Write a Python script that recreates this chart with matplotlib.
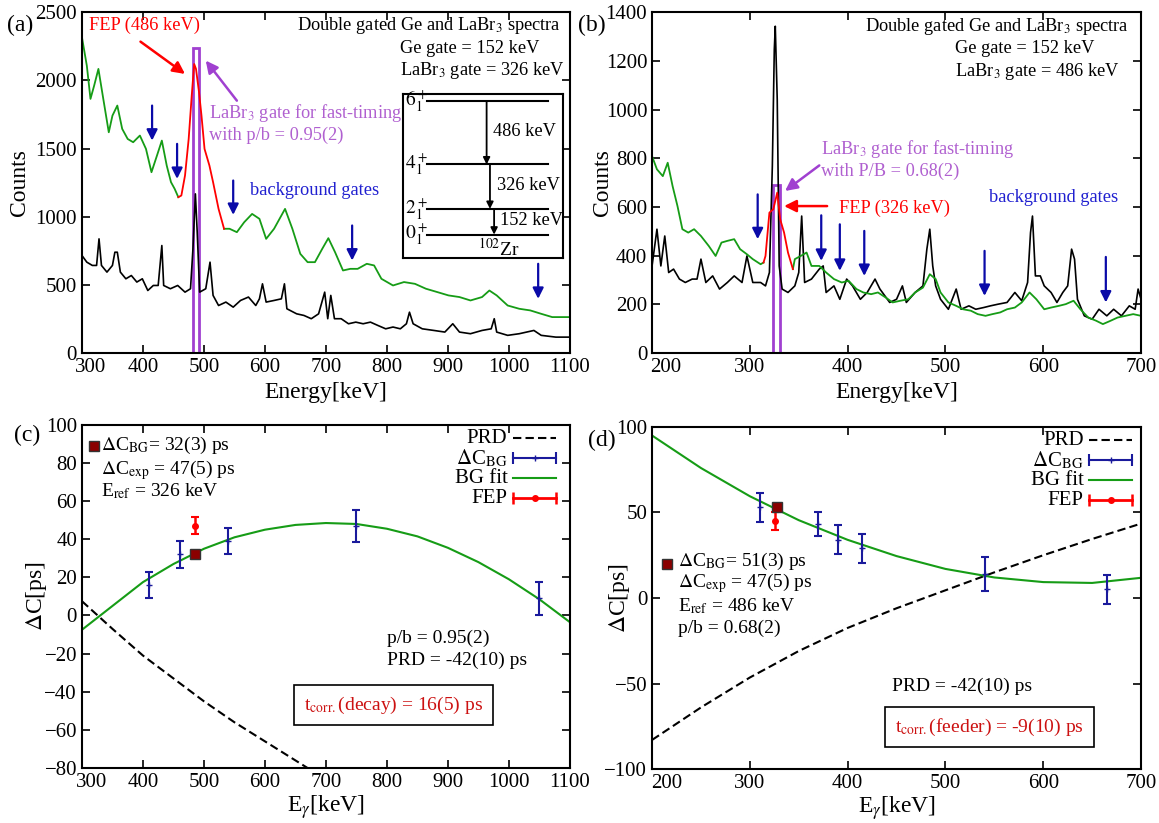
import numpy as np
import matplotlib
matplotlib.use('Agg')
import matplotlib.pyplot as plt
import matplotlib.transforms as mtrans
from matplotlib.patches import Rectangle

plt.rcParams['font.family'] = ['Liberation Serif', 'DejaVu Serif']
plt.rcParams['mathtext.fontset'] = 'stix'

GREEN = '#169c16'
RED = '#ff0000'
PURPLE = '#a040d0'
PURPLE_T = '#b060d0'
BLUE = '#0a0aa8'
BLUE_T = '#2020d0'
EBLUE = '#1a1a9c'
BOXRED = '#cc1111'
SQRED = '#8b0000'
FS = 13.2

# ---- panel (a): spectra gated 152/326 keV
a_green1_e = [300, 308, 314, 320, 327, 335, 344, 350, 358, 366, 375, 384, 395, 405, 414, 423, 431, 439, 446, 452, 458]
a_green1_c = [2317, 2109, 1865, 1962, 2085, 1865, 1620, 1742, 1816, 1645, 1571, 1547, 1596, 1498, 1327, 1449, 1559, 1376, 1254, 1205, 1144]
a_red_e = [458, 463, 469, 475, 480, 484, 487, 492, 496, 501, 509, 515, 524, 533]
a_red_c = [1144, 1156, 1303, 1571, 1889, 2121, 2085, 1913, 1742, 1498, 1376, 1254, 1058, 912]
a_green2_e = [533, 542, 554, 566, 579, 591, 602, 615, 633, 645, 658, 670, 682, 694, 704, 715, 728, 740, 752, 767,
              779, 791, 810, 828, 846, 864, 883, 901, 919, 937, 956, 968, 980, 998, 1017, 1035, 1053, 1071, 1100]
a_green2_c = [912, 912, 887, 960, 1021, 985, 838, 912, 1058, 912, 728, 667, 667, 765, 843, 740, 606, 618, 618, 655,
              643, 545, 496, 521, 508, 472, 447, 423, 411, 386, 411, 459, 423, 349, 325, 313, 288, 264, 264]
a_black_e = [300, 308, 317, 324, 328, 332, 341, 350, 354, 358, 363, 372, 381, 390, 399, 408, 417, 425, 431, 434,
             445, 457, 469, 478, 482, 486, 489, 493, 503, 510, 515, 524, 536, 548, 560, 573, 585, 591, 596, 602,
             615, 627, 632, 636, 652, 664, 676, 688, 698, 703, 708, 714, 725, 737, 749, 761, 773, 785, 798, 810,
             822, 832, 837, 843, 858, 877, 895, 908, 919, 937, 956, 971, 976, 980, 998, 1017, 1041, 1053, 1077, 1100]
a_black_c = [716, 667, 643, 643, 838, 643, 594, 643, 740, 740, 594, 545, 569, 521, 545, 459, 496, 496, 789, 496,
             472, 496, 447, 472, 765, 1168, 887, 447, 472, 667, 423, 349, 374, 337, 386, 411, 349, 398, 508, 374,
             386, 398, 508, 325, 288, 276, 252, 288, 447, 252, 423, 252, 252, 215, 227, 215, 227, 203, 178, 191,
             178, 215, 300, 215, 178, 166, 154, 215, 154, 142, 166, 178, 252, 154, 130, 142, 166, 130, 117, 117]
a_gate = [482, 492]
a_gate_top = 2236
a_arrow_e = [415, 456, 548, 743, 1048]
a_arrow_top = [1816, 1535, 1266, 936, 655]
a_arrow_bot = [1559, 1278, 1014, 679, 398]

# ---- panel (b): spectra gated 152/486 keV
b_green1_e = [200, 205, 211, 216, 221, 226, 231, 237, 243, 250, 258, 265, 271, 277, 284, 290, 297, 303, 311, 314]
b_green1_c = [809, 755, 727, 782, 686, 604, 509, 495, 509, 481, 440, 399, 454, 461, 468, 427, 406, 386, 365, 372]
b_red_e = [314, 316, 320, 324, 328, 331, 335, 339, 344]
b_red_c = [372, 399, 577, 591, 659, 550, 495, 413, 345]
b_green2_e = [344, 346, 352, 358, 363, 371, 378, 386, 394, 401, 409, 416, 424, 431, 439, 446, 454, 462, 469, 477,
              484, 490, 495, 503, 511, 518, 526, 533, 541, 548, 556, 563, 571, 578, 586, 593, 601, 608, 616, 623,
              631, 638, 646, 654, 661, 669, 676, 684, 692, 700]
b_green2_c = [345, 386, 399, 413, 358, 358, 331, 304, 290, 297, 263, 249, 242, 249, 228, 208, 215, 221, 249, 269,
              324, 304, 249, 208, 194, 180, 174, 160, 153, 160, 167, 180, 187, 208, 249, 221, 180, 187, 194, 201,
              215, 180, 146, 133, 119, 133, 146, 153, 160, 153]
b_black_e = [200, 205, 209, 213, 217, 222, 228, 234, 241, 246, 250, 255, 262, 269, 277, 284, 292, 297, 303, 311,
             316, 320, 323, 325, 326, 328, 330, 333, 339, 346, 350, 353, 356, 363, 371, 375, 378, 386, 392, 399,
             405, 413, 420, 428, 433, 443, 450, 456, 460, 469, 477, 481, 484, 487, 490, 495, 503, 511, 516, 524,
             531, 539, 546, 554, 563, 571, 578, 584, 587, 589, 592, 597, 601, 608, 614, 620, 625, 629, 632, 635,
             642, 650, 657, 665, 672, 680, 688, 694, 697, 700]
b_black_c = [358, 509, 358, 481, 331, 345, 304, 290, 304, 304, 386, 290, 317, 263, 290, 317, 290, 399, 290, 290,
             276, 331, 768, 1247, 1343, 1042, 358, 263, 249, 276, 331, 563, 290, 304, 345, 358, 249, 276, 221, 304,
             276, 221, 249, 304, 263, 208, 221, 276, 208, 249, 276, 427, 509, 358, 276, 221, 180, 263, 180, 194,
             180, 187, 194, 201, 208, 249, 215, 290, 495, 563, 317, 317, 276, 249, 208, 249, 276, 427, 386, 221,
             153, 139, 180, 153, 180, 153, 194, 180, 263, 221]
b_gate = [324, 331]
b_gate_top = 689
b_arrow_e = [308, 373, 392, 417, 540, 664]
b_arrow_top = [652, 566, 529, 502, 420, 395]
b_arrow_bot = [468, 379, 338, 317, 235, 208]

# ---- panel (c): time-walk, decay
c_bg_e = [410, 460, 540, 750, 1050]
c_bg_dc = [16, 32, 39, 47, 9]
c_bg_err = [7, 7, 7, 8.5, 8.5]
c_fep_e = [486]
c_fep_dc = [47]
c_fep_err = [4.5]
c_ref_e = [486]
c_ref_dc = [32]
c_fit_e = [300, 350, 400, 450, 500, 550, 600, 650, 700, 750, 800, 850, 900, 950, 1000, 1050, 1100]
c_fit_dc = [-7.5, 5, 17.5, 27, 35, 41, 45, 47.5, 48.5, 48, 45.5, 41.5, 35.5, 28, 19, 8.5, -3.5]
c_prd_e = [300, 350, 400, 450, 500, 550, 600, 650, 700]
c_prd_dc = [7.5, -7, -21, -33, -45, -56, -66, -76, -86]

# ---- panel (d): time-walk, feeder
d_bg_e = [310, 370, 390, 415, 540, 665]
d_bg_dc = [53, 43, 34, 29, 14, 5]
d_bg_err = [8.5, 7, 8.5, 8.5, 10, 8.5]
d_fep_e = [326]
d_fep_dc = [45]
d_fep_err = [5.5]
d_ref_e = [328]
d_ref_dc = [53]
d_fit_e = [200, 250, 300, 350, 400, 450, 500, 550, 600, 650, 700]
d_fit_dc = [95, 76, 59.5, 45.5, 34, 24.5, 17, 12, 9.3, 8.8, 11.8]
d_prd_e = [200, 250, 300, 350, 400, 450, 500, 550, 600, 650, 700]
d_prd_dc = [-83, -64, -46.5, -31, -17.5, -6, 4.5, 15, 25, 34.5, 43.5]

levels = [r'$6^+_1$', r'$4^+_1$', r'$2^+_1$', r'$0^+_1$']
transitions = ['486 keV', '326 keV', '152 keV']

fig = plt.figure(figsize=(11.59, 8.23), dpi=100)


def style(ax, first_dx):
    for s in ax.spines.values():
        s.set_linewidth(1.5)
    ax.tick_params(direction='in', length=6, width=1.2, top=True, right=True, labelsize=15)
    # first x label sits a little to the right, as in the original
    lab = ax.get_xticklabels()[0]
    lab.set_transform(lab.get_transform() + mtrans.ScaledTranslation(first_dx / 100, 0, fig.dpi_scale_trans))


def arrows(ax, xs, tops, bots):
    for x, t, b in zip(xs, tops, bots):
        ax.annotate('', xy=(x, b), xytext=(x, t),
                    arrowprops=dict(arrowstyle='-|>', color=BLUE, lw=1.6, mutation_scale=16,
                                    shrinkA=0, shrinkB=0))


def legend(ax, xt, x0, x1, ys):
    tr = ax.transAxes
    xm = (x0 + x1) / 2
    ax.text(xt, ys[0], 'PRD', transform=tr, ha='right', va='center', fontsize=15)
    ax.plot([x0, x1], [ys[0]] * 2, transform=tr, color='k', ls='--', lw=1.5, dashes=(4, 2))
    ax.text(xt, ys[1], r'$\Delta$C$_{\rm BG}$', transform=tr, ha='right', va='center', fontsize=15)
    ax.plot([x0, x1], [ys[1]] * 2, transform=tr, color=EBLUE, lw=1.5)
    ax.plot([x0, x1], [ys[1]] * 2, transform=tr, color=EBLUE, ls='none', marker='|', ms=8, mew=1.5)
    ax.plot([xm], [ys[1]], transform=tr, color=EBLUE, marker='+', ms=4)
    ax.text(xt, ys[2], 'BG fit', transform=tr, ha='right', va='center', fontsize=15)
    ax.plot([x0, x1], [ys[2]] * 2, transform=tr, color=GREEN, lw=1.5)
    ax.text(xt, ys[3], 'FEP', transform=tr, ha='right', va='center', fontsize=15)
    ax.plot([x0, x1], [ys[3]] * 2, transform=tr, color=RED, lw=2)
    ax.plot([x0, x1], [ys[3]] * 2, transform=tr, color=RED, ls='none', marker='|', ms=8, mew=1.8)
    ax.plot([xm], [ys[3]], transform=tr, color=RED, marker='o', ms=4)


ax_a = fig.add_axes([0.0707, 0.571, 0.421, 0.414])
ax_b = fig.add_axes([0.5626, 0.571, 0.4219, 0.414])
ax_c = fig.add_axes([0.0707, 0.0668, 0.421, 0.417])
ax_d = fig.add_axes([0.5626, 0.0656, 0.4219, 0.4156])

# ---------- (a)
ax = ax_a
ax.plot(a_black_e, a_black_c, color='k', lw=1.2)
ax.plot(a_green1_e, a_green1_c, color=GREEN, lw=1.3)
ax.plot(a_green2_e, a_green2_c, color=GREEN, lw=1.3)
ax.plot(a_red_e, a_red_c, color=RED, lw=1.3)
ax.add_patch(Rectangle((a_gate[0], 0), a_gate[1] - a_gate[0], a_gate_top, fill=False, ec=PURPLE, lw=2))
arrows(ax, a_arrow_e, a_arrow_top, a_arrow_bot)
ax.set_xlim(300, 1100)
ax.set_ylim(0, 2500)
ax.set_xticks(range(300, 1101, 100))
ax.set_yticks(range(0, 2501, 500))
ax.set_xlabel('Energy[keV]', fontsize=17)
ax.set_ylabel('Counts', fontsize=17)
style(ax, 9)
ax.text(311, 2402, 'FEP (486 keV)', color=RED, fontsize=FS, va='center')
ax.annotate('', xy=(469, 2048), xytext=(396, 2285),
            arrowprops=dict(arrowstyle='-|>', color=RED, lw=1.8, mutation_scale=18, shrinkA=0, shrinkB=0))
ax.annotate('', xy=(503, 2146), xytext=(554, 1852),
            arrowprops=dict(arrowstyle='-|>', color=PURPLE, lw=1.8, mutation_scale=18, shrinkA=0, shrinkB=0))
ax.text(509, 1762, r'LaBr$_3$ gate for fast-timing', color=PURPLE_T, fontsize=FS, va='center')
ax.text(509, 1596, 'with p/b = 0.95(2)', color=PURPLE_T, fontsize=FS, va='center')
ax.text(576, 1193, 'background gates', color=BLUE_T, fontsize=FS, va='center')
ax.text(0.981, 0.961, r'Double gated Ge and LaBr$_3$ spectra', transform=ax.transAxes,
        ha='right', va='center', fontsize=FS)
ax.text(0.652, 0.894, 'Ge gate = 152 keV', transform=ax.transAxes, ha='left', va='center', fontsize=FS)
ax.text(0.652, 0.829, r'LaBr$_3$ gate = 326 keV', transform=ax.transAxes, ha='left', va='center', fontsize=FS)

ins = ax.inset_axes([0.658, 0.279, 0.327, 0.48])
ins.set_xlim(0, 1)
ins.set_ylim(0, 1)
ins.set_xticks([])
ins.set_yticks([])
for s in ins.spines.values():
    s.set_linewidth(1.5)
lev_y = [0.957, 0.572, 0.30, 0.143]
arr_x = [0.524, 0.545, 0.571]
lab_x = [0.565, 0.587, 0.61]
for lab, y in zip(levels, lev_y):
    ins.plot([0.15, 0.91], [y, y], color='k', lw=1.5)
    ins.text(0.015, y, lab, fontsize=14, va='center', ha='left')
for i, tr in enumerate(transitions):
    ins.annotate('', xy=(arr_x[i], lev_y[i + 1]), xytext=(arr_x[i], lev_y[i]),
                 arrowprops=dict(arrowstyle='-|>', color='k', lw=1.3, mutation_scale=10, shrinkA=0, shrinkB=0))
    ins.text(lab_x[i], (lev_y[i] + lev_y[i + 1]) / 2 + 0.01, tr, fontsize=FS, va='center', ha='left')
ins.text(0.6, 0.06, r'$^{102}$Zr', fontsize=14, ha='center', va='center')

# ---------- (b)
ax = ax_b
ax.plot(b_black_e, b_black_c, color='k', lw=1.2)
ax.plot(b_green1_e, b_green1_c, color=GREEN, lw=1.3)
ax.plot(b_green2_e, b_green2_c, color=GREEN, lw=1.3)
ax.plot(b_red_e, b_red_c, color=RED, lw=1.3)
ax.add_patch(Rectangle((b_gate[0], 0), b_gate[1] - b_gate[0], b_gate_top, fill=False, ec=PURPLE, lw=2))
arrows(ax, b_arrow_e, b_arrow_top, b_arrow_bot)
ax.set_xlim(200, 700)
ax.set_ylim(0, 1400)
ax.set_xticks(range(200, 701, 100))
ax.set_yticks(range(0, 1401, 200))
ax.set_xlabel('Energy[keV]', fontsize=17)
ax.set_ylabel('Counts', fontsize=17, labelpad=-5)
style(ax, 14)
ax.annotate('', xy=(336, 666), xytext=(371, 771),
            arrowprops=dict(arrowstyle='-|>', color=PURPLE, lw=1.8, mutation_scale=18, shrinkA=0, shrinkB=0))
ax.text(373, 837, r'LaBr$_3$ gate for fast-timing', color=PURPLE_T, fontsize=FS, va='center')
ax.text(373, 748, 'with P/B = 0.68(2)', color=PURPLE_T, fontsize=FS, va='center')
ax.annotate('', xy=(335, 604), xytext=(379, 604),
            arrowprops=dict(arrowstyle='-|>', color=RED, lw=1.8, mutation_scale=18, shrinkA=0, shrinkB=0))
ax.text(391, 593, 'FEP (326 keV)', color=RED, fontsize=FS, va='center')
ax.text(545, 638, 'background gates', color=BLUE_T, fontsize=FS, va='center')
ax.text(0.976, 0.959, r'Double gated Ge and LaBr$_3$ spectra', transform=ax.transAxes,
        ha='right', va='center', fontsize=FS)
ax.text(0.62, 0.893, 'Ge gate = 152 keV', transform=ax.transAxes, ha='left', va='center', fontsize=FS)
ax.text(0.62, 0.827, r'LaBr$_3$ gate = 486 keV', transform=ax.transAxes, ha='left', va='center', fontsize=FS)

# ---------- (c)
ax = ax_c
ax.plot(c_prd_e, c_prd_dc, color='k', ls='--', lw=1.5, dashes=(4, 2))
ax.plot(c_fit_e, c_fit_dc, color=GREEN, lw=1.5)
ax.errorbar(c_bg_e, c_bg_dc, yerr=c_bg_err, fmt='+', ms=4, color=EBLUE, lw=1.5, capsize=3, capthick=1.5)
ax.errorbar(c_fep_e, c_fep_dc, yerr=c_fep_err, fmt='o', ms=4, color=RED, lw=1.8, capsize=3, capthick=1.5)
ax.plot(c_ref_e, c_ref_dc, 's', ms=7, mfc=SQRED, mec='#333333', mew=1)
ax.set_xlim(300, 1100)
ax.set_ylim(-80, 100)
ax.set_xticks(range(300, 1101, 100))
ax.set_yticks(range(-80, 101, 20))
ax.set_xlabel(r'E$_\gamma$[keV]', fontsize=17, labelpad=1)
ax.set_ylabel(r'$\Delta$C[ps]', fontsize=17, labelpad=-3)
style(ax, 10)
legend(ax, 0.872, 0.884, 0.971, [0.961, 0.903, 0.844, 0.786])
ax.plot([319], [89], 's', ms=7, mfc=SQRED, mec='#333333', mew=1)
ax.text(332, 89, r'$\Delta$C$_{\rm BG}$= 32(3) ps', fontsize=14, va='center')
ax.text(332, 76.5, r'$\Delta$C$_{\rm exp}$ = 47(5) ps', fontsize=14, va='center')
ax.text(332, 65, r'E$_{\rm ref}$ = 326 keV', fontsize=14, va='center')
ax.text(800, -12, 'p/b = 0.95(2)', fontsize=14, va='center')
ax.text(800, -23.5, 'PRD = -42(10) ps', fontsize=14, va='center')
ax.text(811, -47, r't$_{\rm corr.}$(decay) = 16(5) ps', fontsize=14, va='center', ha='center', color=BOXRED,
        bbox=dict(boxstyle='square,pad=0.5', fc='white', ec='k', lw=1.2))

# ---------- (d)
ax = ax_d
ax.plot(d_prd_e, d_prd_dc, color='k', ls='--', lw=1.5, dashes=(4, 2))
ax.plot(d_fit_e, d_fit_dc, color=GREEN, lw=1.5)
ax.errorbar(d_bg_e, d_bg_dc, yerr=d_bg_err, fmt='+', ms=4, color=EBLUE, lw=1.5, capsize=3, capthick=1.5)
ax.errorbar(d_fep_e, d_fep_dc, yerr=d_fep_err, fmt='o', ms=4, color=RED, lw=1.8, capsize=3, capthick=1.5)
ax.plot(d_ref_e, d_ref_dc, 's', ms=7, mfc=SQRED, mec='#333333', mew=1)
ax.set_xlim(200, 700)
ax.set_ylim(-100, 100)
ax.set_xticks(range(200, 701, 100))
ax.set_yticks(range(-100, 101, 50))
ax.set_xlabel(r'E$_\gamma$[keV]', fontsize=17, labelpad=1)
ax.set_ylabel(r'$\Delta$C[ps]', fontsize=17, labelpad=-20)
style(ax, 15)
legend(ax, 0.883, 0.894, 0.982, [0.961, 0.902, 0.844, 0.786])
ax.plot([215.5], [20], 's', ms=7, mfc=SQRED, mec='#333333', mew=1)
ax.text(227, 21.5, r'$\Delta$C$_{\rm BG}$= 51(3) ps', fontsize=14, va='center')
ax.text(227, 9, r'$\Delta$C$_{\rm exp}$ = 47(5) ps', fontsize=14, va='center')
ax.text(227, -4.5, r'E$_{\rm ref}$ = 486 keV', fontsize=14, va='center')
ax.text(227, -17.5, 'p/b = 0.68(2)', fontsize=14, va='center')
ax.text(445, -51.5, 'PRD = -42(10) ps', fontsize=14, va='center')
ax.text(545, -75.5, r't$_{\rm corr.}$(feeder) = -9(10) ps', fontsize=14, va='center', ha='center', color=BOXRED,
        bbox=dict(boxstyle='square,pad=0.5', fc='white', ec='k', lw=1.2))

fig.text(7 / 1159, 1 - 25 / 823, '(a)', fontsize=17, va='center')
fig.text(578 / 1159, 1 - 25 / 823, '(b)', fontsize=17, va='center')
fig.text(14 / 1159, 1 - 435 / 823, '(c)', fontsize=17, va='center')
fig.text(588 / 1159, 1 - 440 / 823, '(d)', fontsize=17, va='center')

fig.savefig('out.png', dpi=100)
